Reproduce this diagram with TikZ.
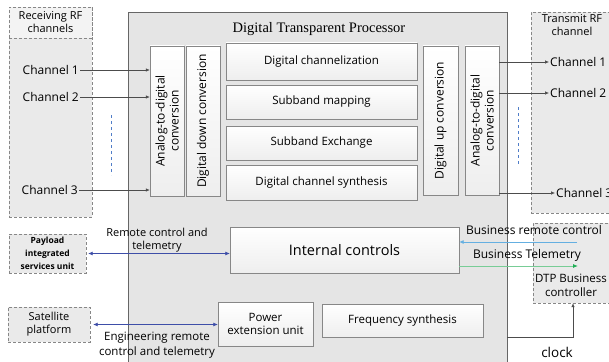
\documentclass[tikz,border=0pt]{standalone}
\usepackage{fontspec}
\setmainfont{Open Sans}
\newfontfamily\titlefont{Liberation Serif}
\usetikzlibrary{arrows.meta}

\definecolor{panelfill}{RGB}{229,229,229}
\definecolor{dashfill}{RGB}{234,234,234}
\definecolor{headfill}{RGB}{243,243,243}
\definecolor{boxline}{RGB}{135,135,135}
\definecolor{boxfill}{RGB}{238,238,238}
\definecolor{ctrlblue}{RGB}{62,78,168}
\definecolor{lightblue}{RGB}{100,175,225}
\definecolor{telegreen}{RGB}{120,205,150}
\definecolor{tipgreen}{RGB}{30,175,85}
\definecolor{dashblue}{RGB}{80,125,200}

\tikzset{
  boxsize/.style 2 args={minimum width=#1, minimum height=#2},
  mainbox/.style={draw=black!60, fill=panelfill, inner sep=0pt},
  dashbox/.style={draw=boxline, densely dashed, fill=dashfill, inner sep=0pt},
  blockbox/.style={draw=boxline, top color=white, bottom color=boxfill, inner sep=0pt, align=center, font=\fontsize{11.5}{13.5}\selectfont},
  plaintext/.style={inner sep=1pt, align=center, font=\fontsize{11}{13}\selectfont},
  chanarrow/.style={draw=black!70, line width=0.6pt, -{Latex[length=4pt,width=3.5pt]}},
  ctrlarrow/.style={draw=ctrlblue, line width=0.6pt, {Latex[length=4.5pt,width=4pt]}-{Latex[length=4.5pt,width=4pt]}},
}

\begin{document}
\begin{tikzpicture}[x=1pt,y=-1pt]
  \useasboundingbox (0,0) rectangle (609,361);

  %%%%% FRAMES %%%%%
  \node[mainbox, boxsize={379}{380}] (dtp) at (317.5,202) {};
  \node[plaintext, font=\titlefont\fontsize{14.5}{16}\selectfont] (dtptitle) at (319,29) {Digital Transparent Processor};

  \node[dashbox, boxsize={83}{210}] (recv) at (50.5,112) {};
  \node[dashbox, fill=headfill, boxsize={83}{31}, plaintext, densely dashed] (recvhead) at (50.5,22.5) {Receiving RF\\channels};

  \node[dashbox, boxsize={92}{201}] (trans) at (577,112.5) {};
  \node[plaintext] (transhead) at (572,25) {Transmit RF\\channel};

  \node[dashbox, boxsize={80}{80}] (dtpc) at (573,263) {};
  \node[plaintext, font=\fontsize{11.5}{13.5}\selectfont] (dtpclabel) at (571,285.5) {DTP Business\\controller};

  %%%%% PROCESSING CHAIN %%%%%
  \node[blockbox, rotate=90, boxsize={150}{34}, font=\fontsize{12}{14}\selectfont] (adcin) at (167,121) {Analog-to-digital\\conversion};
  \node[blockbox, rotate=90, boxsize={150}{34}, font=\fontsize{12}{14}\selectfont] (ddc) at (203,121) {Digital down conversion};

  \node[blockbox, boxsize={191}{37}] (chz) at (321.5,61.5) {Digital channelization};
  \node[blockbox, boxsize={191}{34}] (sbm) at (321.5,102) {Subband mapping};
  \node[blockbox, boxsize={191}{34}] (sbx) at (321.5,143) {Subband Exchange};
  \node[blockbox, boxsize={191}{35}] (syn) at (321.5,182.5) {Digital channel synthesis};

  \node[blockbox, rotate=90, boxsize={149}{35}, font=\fontsize{12}{14}\selectfont] (duc) at (440.5,120.5) {Digital up conversion};
  \node[blockbox, rotate=90, boxsize={149}{34}, font=\fontsize{12}{14}\selectfont] (adcout) at (482,120.5) {Analog-to-digital\\conversion};

  %%%%% CHANNELS %%%%%
  \node[plaintext, anchor=east, font=\fontsize{12}{14}\selectfont] (ch1) at (80,70) {Channel 1};
  \node[plaintext, anchor=east, font=\fontsize{12}{14}\selectfont] (ch2) at (80,97) {Channel 2};
  \node[plaintext, anchor=east, font=\fontsize{12}{14}\selectfont] (ch3) at (79,190) {Channel 3};
  \draw[chanarrow] (ch1) -- (ch1 -| adcin.north);
  \draw[chanarrow] (ch2) -- (ch2 -| adcin.north);
  \draw[chanarrow] (ch3) -- (ch3 -| adcin.north);

  \node[plaintext, anchor=west, font=\fontsize{12}{14}\selectfont] (out1) at (549,62) {Channel 1};
  \node[plaintext, anchor=west, font=\fontsize{12}{14}\selectfont] (out2) at (549,93) {Channel 2};
  \node[plaintext, anchor=west, font=\fontsize{12}{14}\selectfont] (out3) at (555,193) {Channel 3};
  \draw[chanarrow] (out1 -| adcout.south) -- (out1);
  \draw[chanarrow] (out2 -| adcout.south) -- (out2);
  \draw[chanarrow] (out3 -| adcout.south) -- (out3);

  \draw[dashblue, dashed, line width=0.7pt] (111,115) -- (111,175);
  \draw[dashblue, dashed, line width=0.7pt] (518,107) -- (518,165);

  %%%%% CONTROL PART %%%%%
  \node[blockbox, boxsize={229}{46}, font=\fontsize{14.5}{17}\selectfont] (ictl) at (344.5,250) {Internal controls};
  \node[blockbox, boxsize={95}{44}] (pwr) at (265.5,324) {Power\\extension unit};
  \node[blockbox, boxsize={161}{33}] (fsyn) at (402.5,320.5) {Frequency synthesis};

  \node[dashbox, boxsize={77}{39}, align=center, font=\bfseries\fontsize{8.5}{13}\selectfont] (pisu) at (47.5,253.5) {Payload\\integrated\\services unit};
  \node[dashbox, boxsize={82}{35}, align=center, font=\fontsize{11}{13}\selectfont] (sat) at (49,324.5) {Satellite\\platform};

  \draw[ctrlarrow, shorten <=2pt] (pisu) -- (pisu -| ictl.west);
  \node[plaintext, font=\fontsize{11}{13.5}\selectfont] (rclabel) at (157,240) {Remote control and\\telemetry};
  \draw[ctrlarrow, shorten <=3pt] (sat) -- (sat -| pwr.west);
  \node[plaintext, font=\fontsize{11.5}{15.5}\selectfont] (englabel) at (157,345) {Engineering remote\\control and telemetry};

  \coordinate (brstart) at (577,242);
  \coordinate (btend) at (578,266);
  \draw[lightblue, line width=0.8pt, -{Latex[length=4.5pt,width=4pt]}] (brstart) -- (brstart -| ictl.east);
  \draw[telegreen, line width=0.9pt, -{Latex[length=5pt,width=4pt,color=tipgreen]}] (btend -| ictl.east) -- (btend);
  \node[plaintext, font=\fontsize{12}{14}\selectfont] (brlabel) at (534,230) {Business remote control};
  \node[plaintext, font=\fontsize{12}{14}\selectfont] (btlabel) at (527,255) {Business Telemetry};

  \coordinate (clkstart) at (dtp.east |- fsyn.south);
  \draw[chanarrow] (clkstart) -| (dtpc.south);
  \node[plaintext, font=\fontsize{13.5}{16}\selectfont] (clk) at (557,352) {clock};
\end{tikzpicture}
\end{document}
